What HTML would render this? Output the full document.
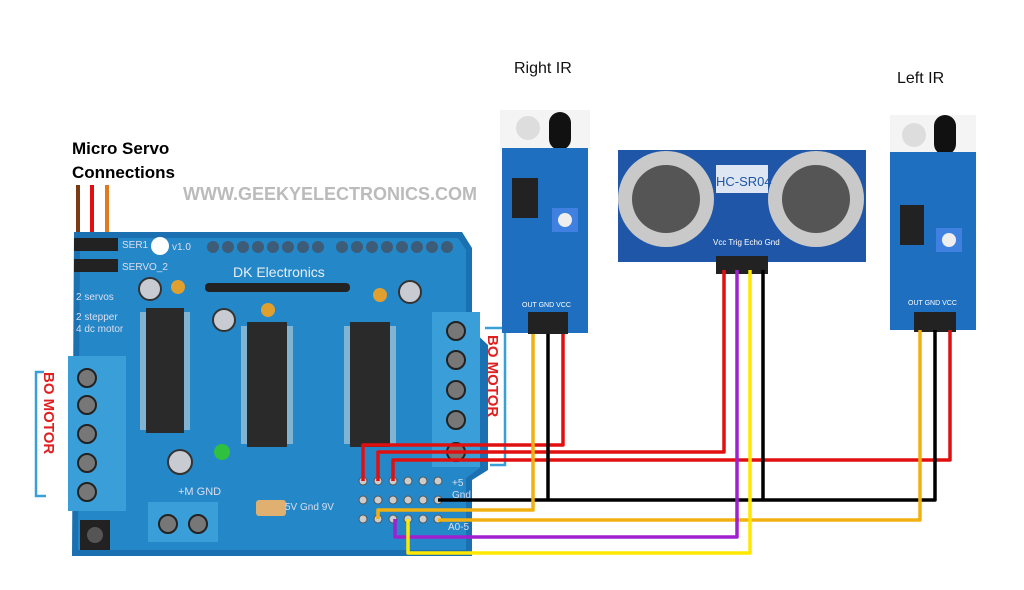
<!DOCTYPE html>
<html><head><meta charset="utf-8"><style>
body{margin:0;background:#fff;}
svg{display:block;font-family:"Liberation Sans",sans-serif;}
</style></head><body>
<svg width="1024" height="590" viewBox="0 0 1024 590">
<rect width="1024" height="590" fill="#fff"/>
<text x="514" y="73" font-size="16" fill="#111">Right IR</text>
<text x="897" y="83" font-size="16" fill="#111">Left IR</text>
<text x="72" y="154" font-size="17" font-weight="bold" fill="#000">Micro Servo</text>
<text x="72" y="178" font-size="17" font-weight="bold" fill="#000">Connections</text>
<text x="183" y="200" font-size="18" font-weight="bold" fill="#bbb">WWW.GEEKYELECTRONICS.COM</text>
<line x1="78" y1="185" x2="78" y2="240" stroke="#7a3a12" stroke-width="4"/>
<line x1="92" y1="185" x2="92" y2="240" stroke="#e01010" stroke-width="4"/>
<line x1="107" y1="185" x2="107" y2="240" stroke="#e07a20" stroke-width="4"/>
<path d="M74 232 L462 232 L472 248 L472 330 L488 345 L488 470 L472 480 L472 556 L72 556 Z" fill="#1a70b0"/>
<path d="M80 238 L458 238 L466 250 L466 330 L480 345 L480 468 L466 478 L466 550 L78 550 Z" fill="#2488c8"/>
<g fill="#3c5c78">
<circle cx="213" cy="247" r="6"/><circle cx="228" cy="247" r="6"/><circle cx="243" cy="247" r="6"/><circle cx="258" cy="247" r="6"/><circle cx="273" cy="247" r="6"/><circle cx="288" cy="247" r="6"/><circle cx="303" cy="247" r="6"/><circle cx="318" cy="247" r="6"/>
<circle cx="342" cy="247" r="6"/><circle cx="357" cy="247" r="6"/><circle cx="372" cy="247" r="6"/><circle cx="387" cy="247" r="6"/><circle cx="402" cy="247" r="6"/><circle cx="417" cy="247" r="6"/><circle cx="432" cy="247" r="6"/><circle cx="447" cy="247" r="6"/>
</g>
<circle cx="160" cy="246" r="9" fill="#fff"/>
<g fill="#222"><rect x="74" y="238" width="44" height="13"/><rect x="74" y="259" width="44" height="13"/></g>
<text x="122" y="248" font-size="10" fill="#dde">SER1</text>
<text x="122" y="270" font-size="10" fill="#dde">SERVO_2</text>
<text x="172" y="250" font-size="10" fill="#dde">v1.0</text>
<text x="233" y="277" font-size="14" fill="#e8eef5">DK Electronics</text>
<text x="76" y="300" font-size="10" fill="#dde">2 servos</text>
<text x="76" y="320" font-size="10" fill="#dde">2 stepper</text>
<text x="76" y="332" font-size="10" fill="#dde">4 dc motor</text>
<rect x="205" y="283" width="145" height="9" rx="4" fill="#222"/>
<g fill="#2a2a2a"><rect x="146" y="308" width="38" height="125"/><rect x="247" y="322" width="40" height="125"/><rect x="350" y="322" width="40" height="125"/></g>
<g fill="#ddd">
<rect x="140" y="312" width="6" height="118" opacity=".5"/><rect x="184" y="312" width="6" height="118" opacity=".5"/>
<rect x="241" y="326" width="6" height="118" opacity=".5"/><rect x="287" y="326" width="6" height="118" opacity=".5"/>
<rect x="344" y="326" width="6" height="118" opacity=".5"/><rect x="390" y="326" width="6" height="118" opacity=".5"/>
</g>
<g fill="#c8ccd2" stroke="#333" stroke-width="2"><circle cx="150" cy="289" r="11"/><circle cx="224" cy="320" r="11"/><circle cx="410" cy="292" r="11"/><circle cx="180" cy="462" r="12"/></g>
<g fill="#e0a030"><circle cx="178" cy="287" r="7"/><circle cx="268" cy="310" r="7"/><circle cx="380" cy="295" r="7"/></g>
<circle cx="222" cy="452" r="8" fill="#30c040"/>
<rect x="256" y="500" width="30" height="16" rx="3" fill="#e0b070"/>
<rect x="68" y="356" width="58" height="155" fill="#3a9fd8"/>
<g fill="#777" stroke="#222" stroke-width="2"><circle cx="87" cy="378" r="9"/><circle cx="87" cy="405" r="9"/><circle cx="87" cy="434" r="9"/><circle cx="87" cy="463" r="9"/><circle cx="87" cy="492" r="9"/></g>
<rect x="432" y="312" width="48" height="155" fill="#3a9fd8"/>
<g fill="#777" stroke="#222" stroke-width="2"><circle cx="456" cy="331" r="9"/><circle cx="456" cy="360" r="9"/><circle cx="456" cy="390" r="9"/><circle cx="456" cy="420" r="9"/><circle cx="456" cy="452" r="9"/></g>
<rect x="148" y="502" width="70" height="40" fill="#3a9fd8"/>
<g fill="#777" stroke="#222" stroke-width="2"><circle cx="168" cy="524" r="9"/><circle cx="198" cy="524" r="9"/></g>
<rect x="80" y="520" width="30" height="30" fill="#222"/><circle cx="95" cy="535" r="8" fill="#555"/>
<text x="178" y="495" font-size="11" fill="#dde">+M GND</text>
<text x="285" y="510" font-size="10" fill="#dde">5V Gnd 9V</text>
<g fill="#ccc" stroke="#555">
<circle cx="363" cy="481" r="4"/><circle cx="378" cy="481" r="4"/><circle cx="393" cy="481" r="4"/><circle cx="408" cy="481" r="4"/><circle cx="423" cy="481" r="4"/><circle cx="438" cy="481" r="4"/>
<circle cx="363" cy="500" r="4"/><circle cx="378" cy="500" r="4"/><circle cx="393" cy="500" r="4"/><circle cx="408" cy="500" r="4"/><circle cx="423" cy="500" r="4"/><circle cx="438" cy="500" r="4"/>
<circle cx="363" cy="519" r="4"/><circle cx="378" cy="519" r="4"/><circle cx="393" cy="519" r="4"/><circle cx="408" cy="519" r="4"/><circle cx="423" cy="519" r="4"/><circle cx="438" cy="519" r="4"/>
</g>
<text x="452" y="486" font-size="10" fill="#dde">+5</text>
<text x="452" y="498" font-size="10" fill="#dde">Gnd</text>
<text x="448" y="530" font-size="10" fill="#dde">A0-5</text>
<path d="M44 372 H36 V496 H46" fill="none" stroke="#3a9fd8" stroke-width="2.5"/>
<text transform="translate(44,372) rotate(90)" font-size="15" font-weight="bold" fill="#e02020">BO MOTOR</text>
<path d="M485 328 H505 V465 H490" fill="none" stroke="#3a9fd8" stroke-width="2.5"/>
<text transform="translate(488,335) rotate(90)" font-size="15" font-weight="bold" fill="#e02020">BO MOTOR</text>
<rect x="500" y="110" width="90" height="40" fill="#f4f4f4"/>
<circle cx="528" cy="128" r="12" fill="#ddd"/><rect x="549" y="112" width="22" height="38" rx="11" fill="#111"/>
<rect x="502" y="148" width="86" height="185" fill="#1f6fc0"/>
<rect x="512" y="178" width="26" height="40" fill="#222"/><rect x="552" y="208" width="26" height="24" fill="#4080e0"/><circle cx="565" cy="220" r="7" fill="#eee"/>
<rect x="528" y="312" width="40" height="22" fill="#222"/>
<text x="522" y="307" font-size="7" fill="#fff">OUT GND VCC</text>
<rect x="618" y="150" width="248" height="112" fill="#1f56a8"/>
<circle cx="666" cy="199" r="48" fill="#c9c9c9"/><circle cx="666" cy="199" r="34" fill="#555"/>
<circle cx="816" cy="199" r="48" fill="#c9c9c9"/><circle cx="816" cy="199" r="34" fill="#555"/>
<rect x="716" y="165" width="52" height="28" fill="#fff" opacity=".85"/>
<text x="716" y="186" font-size="13" fill="#1f56a8">HC-SR04</text>
<text x="713" y="245" font-size="8" fill="#fff">Vcc Trig Echo Gnd</text>
<rect x="716" y="256" width="52" height="18" fill="#222"/>
<rect x="890" y="115" width="86" height="45" fill="#f4f4f4"/>
<circle cx="914" cy="135" r="12" fill="#ddd"/><rect x="934" y="115" width="22" height="40" rx="11" fill="#111"/>
<rect x="890" y="152" width="86" height="178" fill="#1f6fc0"/>
<rect x="900" y="205" width="24" height="40" fill="#222"/><rect x="936" y="228" width="26" height="24" fill="#4080e0"/><circle cx="949" cy="240" r="7" fill="#eee"/>
<rect x="914" y="312" width="42" height="20" fill="#222"/>
<text x="908" y="305" font-size="7" fill="#fff">OUT GND VCC</text>
<g fill="none" stroke-width="3.5" stroke-linejoin="round">
<path d="M563 334 V445 H363 V481" stroke="#e01010"/>
<path d="M724 270 V452 H378 V481" stroke="#e01010"/>
<path d="M950 330 V460 H393 V481" stroke="#e01010"/>
<path d="M548 334 V500" stroke="#000"/>
<path d="M438 500 H935 V330" stroke="#000"/>
<path d="M763 270 V500" stroke="#000"/>
<path d="M533 334 V510 H378 V519" stroke="#f0b010"/>
<path d="M920 330 V520 H438" stroke="#f0b010"/>
<path d="M737 270 V537 H395 V519" stroke="#a020d0"/>
<path d="M750 270 V553 H408 V519" stroke="#ffe800"/>
</g>
</svg>
</body></html>
